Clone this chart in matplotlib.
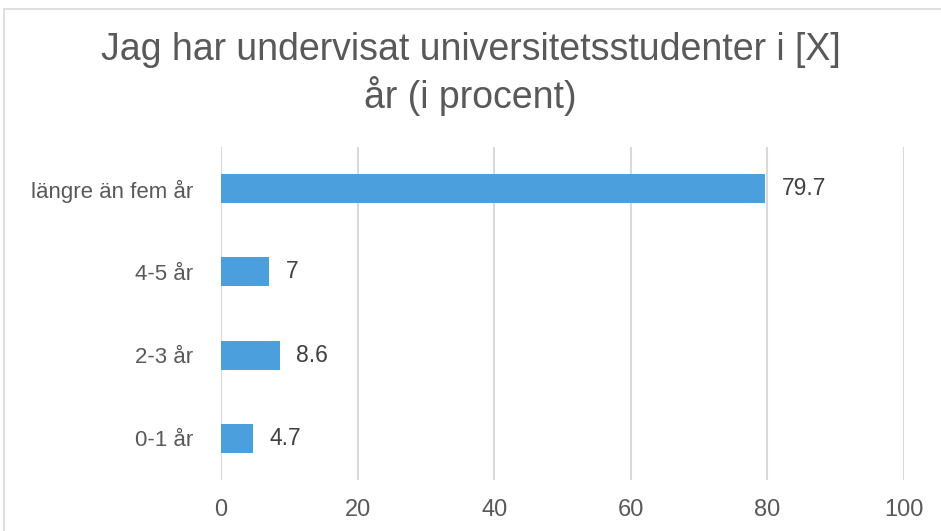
import matplotlib
matplotlib.use("Agg")
import matplotlib.pyplot as plt
from matplotlib.patches import Rectangle

categories = ["0-1 år", "2-3 år", "4-5 år", "längre än fem år"]
values = [4.7, 8.6, 7, 79.7]
value_labels = ["4.7", "8.6", "7", "79.7"]
xticks = [0, 20, 40, 60, 80, 100]

plt.rcParams['font.family'] = ['Liberation Sans', 'DejaVu Sans']

W, H = 941, 531
fig = plt.figure(figsize=(W / 100, H / 100), dpi=100)

# chart border
fig.patches.append(Rectangle((4 / W, -0.05), 1.2, (H - 9) / H + 0.05, transform=fig.transFigure,
                             fill=False, edgecolor='#d9d9d9', linewidth=1.2))

ax = fig.add_axes([221 / W, 1 - 480 / H, (904 - 221) / W, (480 - 147) / H])
y = list(range(len(categories)))
ax.barh(y, values, height=0.35, color='#4a9fdc', zorder=3)
ax.set_xlim(0, 100)
ax.set_ylim(-0.5, len(categories) - 0.5)
ax.set_xticks(xticks)
ax.set_xticklabels([str(t) for t in xticks])
ax.set_yticks(y)
ax.set_yticklabels(categories)
ax.tick_params(axis='x', length=0, pad=14, labelsize=17, labelcolor='#595959')
ax.tick_params(axis='y', length=0, pad=20, labelsize=16, labelcolor='#595959')
ax.grid(axis='x', color='#d9d9d9', linewidth=1.5, zorder=0)
for s in ax.spines.values():
    s.set_visible(False)

for yi, v, lab in zip(y, values, value_labels):
    ax.annotate(lab, (v, yi), xytext=(12, 0), textcoords='offset points',
                va='center', ha='left', fontsize=16.5, color='#404040')

fig.text(0.5, 1 - 50 / H, "Jag har undervisat universitetsstudenter i [X]",
         ha='center', va='center', fontsize=27, color='#595959')
fig.text(0.5, 1 - 96 / H, "år (i procent)",
         ha='center', va='center', fontsize=27, color='#595959')

fig.savefig("out.png", dpi=100)
